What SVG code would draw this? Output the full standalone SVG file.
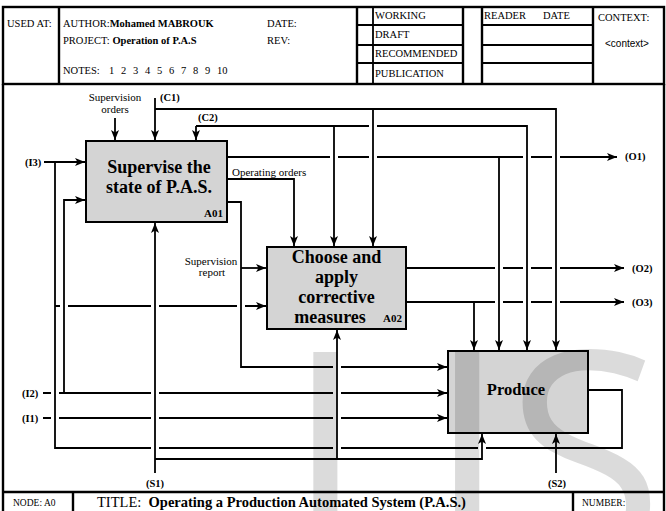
<svg xmlns="http://www.w3.org/2000/svg" width="666" height="511" viewBox="0 0 666 511">
<style>
text{font-family:"Liberation Serif","Times New Roman",serif;fill:#000}
.hd{font-size:10.5px}
.sm{font-size:11px}
.lb{font-size:10.5px;font-weight:bold}
.bt{font-size:18px;font-weight:bold;text-anchor:middle}
.id{font-size:11px;font-weight:bold}
.b{font-weight:bold}
.box{fill:#d4d4d4;stroke:#000;stroke-width:2}
.fr{fill:none;stroke:#000;stroke-width:2.4}
.fi{fill:none;stroke:#000;stroke-width:1.8}
.ln{fill:none;stroke:#000;stroke-width:1.8}
.ar{marker-end:url(#ah)}
.wm{font-family:"Open Sans","Noto Sans",sans-serif;font-size:290px;fill:#000;fill-opacity:0.14}
</style>
<defs>
<marker id="ah" markerUnits="userSpaceOnUse" markerWidth="11" markerHeight="9" refX="10" refY="4" orient="auto">
<path d="M0,0 L10,4 L0,8 L2.5,4 z" fill="#000"/>
</marker>
</defs>
<rect width="666" height="511" fill="#fff"/>

<g id="frame">
<rect class="fr" x="3" y="7" width="661" height="77"/>
<path class="fr" d="M59,7 V84 M357,7 V84 M463,7 V84 M482,7 V84 M593,7 V84"/>
<path class="fi" d="M373,7 V84 M357,25 H463 M357,45 H463 M357,63 H463 M482,25 H593 M482,45 H593 M482,63 H593"/>
<path class="fr" d="M3,84 V511 M664,84 V511 M3,492 H664 M73,492 V511 M573,492 V511"/>
<text class="hd" x="7" y="27">USED AT:</text>
<text class="hd" x="63" y="27">AUTHOR:<tspan class="b">Mohamed MABROUK</tspan></text>
<text class="hd" x="267" y="27">DATE:</text>
<text class="hd" x="63" y="44">PROJECT: <tspan class="b">Operation of P.A.S</tspan></text>
<text class="hd" x="267" y="44">REV:</text>
<text class="hd" x="63" y="74">NOTES: <tspan x="109">1</tspan> <tspan x="121">2</tspan> <tspan x="133">3</tspan> <tspan x="145">4</tspan> <tspan x="157">5</tspan> <tspan x="169">6</tspan> <tspan x="181">7</tspan> <tspan x="193">8</tspan> <tspan x="205">9</tspan> <tspan x="217">10</tspan></text>
<text class="hd" x="375" y="19">WORKING</text>
<text class="hd" x="375" y="38">DRAFT</text>
<text class="hd" x="375" y="57">RECOMMENDED</text>
<text class="hd" x="375" y="77">PUBLICATION</text>
<text class="hd" x="484" y="19">READER</text>
<text class="hd" x="543" y="19">DATE</text>
<text class="hd" x="598" y="21">CONTEXT:</text>
<text x="627" y="47" style="font-family:'Liberation Sans',Arial,sans-serif;font-size:10px;text-anchor:middle">&lt;context&gt;</text>
<text x="13" y="506" style="font-size:9.5px">NODE: A0</text>
<text x="97" y="507" style="font-size:14.5px" xml:space="preserve">TITLE:  <tspan class="b">Operating a Production Automated System (P.A.S.)</tspan></text>
<text x="582" y="506" style="font-size:9.5px">NUMBER:</text>
</g>

<g id="A01">
<rect class="box" x="86" y="141" width="141" height="81"/>
<text class="bt" x="159" y="173">Supervise the</text>
<text class="bt" x="159" y="193">state of P.A.S.</text>
<text class="id" x="204" y="217">A01</text>
</g>
<g id="A02">
<rect class="box" x="267" y="247" width="139" height="82"/>
<text class="bt" x="336.5" y="263">Choose and</text>
<text class="bt" x="336.5" y="283">apply</text>
<text class="bt" x="336.5" y="303">corrective</text>
<text class="bt" x="330" y="323">measures</text>
<text class="id" x="383" y="322">A02</text>
</g>
<g id="A03">
<rect class="box" x="448" y="351" width="140" height="82"/>
<text x="516" y="395" style="font-size:16.5px;font-weight:bold;text-anchor:middle">Produce</text>
</g>

<text id="watermark" class="wm" x="285 428 505" y="559">IJS</text>

<g id="connectors">
<path class="ln ar" d="M115,118 V140"/>
<path class="ln ar" d="M155,98 V140"/>
<path class="ln ar" d="M155,109 H556 V350"/>
<path class="ln ar" d="M373,109 V246"/>
<path class="ln ar" d="M196,126 V140"/>
<path class="ln ar" d="M196,126 H369 M377,126 H527 V350"/>
<path class="ln ar" d="M334,126 V246"/>
<path class="ln ar" d="M227,157 H330 M338,157 H369 M377,157 H523 M531,157 H552 M560,157 H617"/>
<path class="ln ar" d="M499,157 V350"/>
<path class="ln ar" d="M227,179 H294 V246"/>
<path class="ln ar" d="M227,202 H241 V367 H333 M341,367 H447"/>
<path class="ln ar" d="M241,268 H266"/>
<path class="ln ar" d="M55,306 H60 M68,306 H151 M159,306 H237 M245,306 H266"/>
<path class="ln ar" d="M406,268 H495 M503,268 H523 M531,268 H552 M560,268 H624"/>
<path class="ln ar" d="M406,302 H495 M503,302 H523 M531,302 H552 M560,302 H624"/>
<path class="ln ar" d="M474,302 V350"/>
<path class="ln ar" d="M44,162 H85"/>
<path class="ln ar" d="M64,393 V200 H85"/>
<path class="ln ar" d="M43,393 H51 M59,393 H151 M159,393 H333 M341,393 H447"/>
<path class="ln ar" d="M43,418 H51 M59,418 H151 M159,418 H333 M341,418 H447"/>
<path class="ln" d="M588,390 H622 V448 H486 M478,448 H341 M333,448 H159 M151,448 H55 V162"/>
<path class="ln ar" d="M155,473 V223"/>
<path class="ln ar" d="M155,459 H482 V434"/>
<path class="ln ar" d="M337,459 V330"/>
<path class="ln ar" d="M556,473 V434"/>
</g>

<g id="labels">
<text class="sm" x="115" y="101" text-anchor="middle">Supervision</text>
<text class="sm" x="115" y="113" text-anchor="middle">orders</text>
<text class="lb" x="160" y="101">(C1)</text>
<text class="lb" x="198" y="121">(C2)</text>
<text class="lb" x="25" y="166">(I3)</text>
<text class="lb" x="22" y="397">(I2)</text>
<text class="lb" x="22" y="422">(I1)</text>
<text class="lb" x="155" y="487" text-anchor="middle">(S1)</text>
<text class="lb" x="557" y="487" text-anchor="middle">(S2)</text>
<text class="lb" x="625" y="160">(O1)</text>
<text class="lb" x="632" y="272">(O2)</text>
<text class="lb" x="632" y="306">(O3)</text>
<text class="sm" x="232" y="176">Operating orders</text>
<text class="sm" x="211" y="265" text-anchor="middle">Supervision</text>
<text class="sm" x="212" y="276" text-anchor="middle">report</text>
</g>
</svg>
